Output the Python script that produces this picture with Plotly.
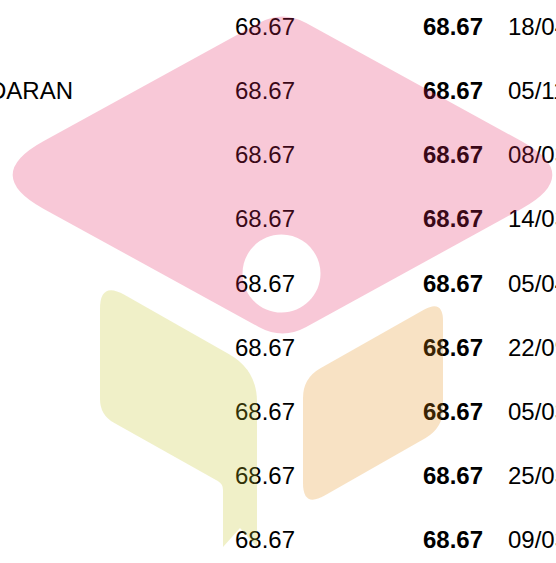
import plotly.graph_objects as go

# ---- data ----
row_labels = ["", "KESEDARAN", "", "", "", "", "", "", ""]
scores = [68.67, 68.67, 68.67, 68.67, 68.67, 68.67, 68.67, 68.67, 68.67]
final_scores = [68.67, 68.67, 68.67, 68.67, 68.67, 68.67, 68.67, 68.67, 68.67]
dates = ["18/04/2023", "05/11/2022", "08/03/2023", "14/03/2023", "05/04/2023",
         "22/09/2022", "05/03/2023", "25/03/2023", "09/03/2023"]

W, H = 556, 563
ROW0, ROWSTEP = 29.0, 64.15
COL_LABEL_END, COL_SCORE, COL_FINAL, COL_DATE = 73, 265, 453, 508

rows = list(range(len(scores)))
FONT = "Liberation Sans, Arial, sans-serif"

fig = go.Figure()
fig.add_trace(go.Scatter(x=[COL_LABEL_END] * len(rows), y=rows, mode="text",
                         text=row_labels, textposition="middle left",
                         textfont=dict(family=FONT, size=24, color="#000000"),
                         hoverinfo="skip", showlegend=False))
fig.add_trace(go.Scatter(x=[COL_SCORE] * len(rows), y=rows, mode="text",
                         text=[f"{v:.2f}" for v in scores], textposition="middle center",
                         textfont=dict(family=FONT, size=24, color="#000000"),
                         hoverinfo="skip", showlegend=False))
fig.add_trace(go.Scatter(x=[COL_FINAL] * len(rows), y=rows, mode="text",
                         text=[f"<b>{v:.2f}</b>" for v in final_scores], textposition="middle center",
                         textfont=dict(family=FONT, size=24, color="#000000"),
                         hoverinfo="skip", showlegend=False))
fig.add_trace(go.Scatter(x=[COL_DATE] * len(rows), y=rows, mode="text",
                         text=dates, textposition="middle right",
                         textfont=dict(family=FONT, size=24, color="#000000"),
                         hoverinfo="skip", showlegend=False))


def rounded_path(verts, radii):
    n = len(verts)
    pts = []
    for i in range(n):
        vx, vy = verts[i]
        px, py = verts[i - 1]
        nx, ny = verts[(i + 1) % n]
        d = radii[i]

        def toward(ax, ay):
            dx, dy = ax - vx, ay - vy
            L = (dx * dx + dy * dy) ** 0.5
            return vx + dx / L * d, vy + dy / L * d
        pts.append((toward(px, py), (vx, vy), toward(nx, ny)))
    s = f"M {pts[0][2][0]:.2f},{pts[0][2][1]:.2f}"
    for i in list(range(1, n)) + [0]:
        a, v, b = pts[i]
        s += f" L {a[0]:.2f},{a[1]:.2f} Q {v[0]:.2f},{v[1]:.2f} {b[0]:.2f},{b[1]:.2f}"
    return s + " Z"


def circle_path_ccw(cx, cy, r):
    k = 0.5523 * r
    return (f" M {cx + r},{cy} C {cx + r},{cy - k} {cx + k},{cy - r} {cx},{cy - r}"
            f" C {cx - k},{cy - r} {cx - r},{cy - k} {cx - r},{cy}"
            f" C {cx - r},{cy + k} {cx - k},{cy + r} {cx},{cy + r}"
            f" C {cx + k},{cy + r} {cx + r},{cy + k} {cx + r},{cy} Z")


pink = rounded_path([(-18, 175), (282.5, 10), (583, 175), (282.5, 340)], [70, 27, 70, 27])
pink += circle_path_ccw(281.5, 273.5, 39)
yellow = rounded_path([(100, 281), (257, 370), (257, 547), (240, 528), (223, 547), (223, 484), (100, 415)],
                      [28, 32, 0.01, 0.01, 0.01, 6, 16])
orange = rounded_path([(443, 299), (443, 428), (303, 508), (303, 378)], [22, 20, 25, 20])

shape_common = dict(type="path", xref="x2", yref="y2", line=dict(width=0), layer="above", opacity=0.25)
fig.add_shape(path=pink, fillcolor="rgb(227,35,95)", **shape_common)
fig.add_shape(path=yellow, fillcolor="rgb(197,197,35)", **shape_common)
fig.add_shape(path=orange, fillcolor="rgb(227,139,19)", **shape_common)

hidden = dict(visible=False, showgrid=False, zeroline=False, fixedrange=True)
fig.update_layout(
    width=W, height=H, margin=dict(l=0, r=0, t=0, b=0, pad=0),
    paper_bgcolor="white", plot_bgcolor="white",
    xaxis=dict(range=[0, W], **hidden),
    yaxis=dict(range=[(H - ROW0) / ROWSTEP, -ROW0 / ROWSTEP], **hidden),
    xaxis2=dict(range=[0, W], overlaying="x", **hidden),
    yaxis2=dict(range=[H, 0], overlaying="y", **hidden),
    showlegend=False,
)
fig.write_html("out.html", config={"displayModeBar": False},
               post_script="document.body.style.margin='0';document.body.style.overflow='hidden';")
